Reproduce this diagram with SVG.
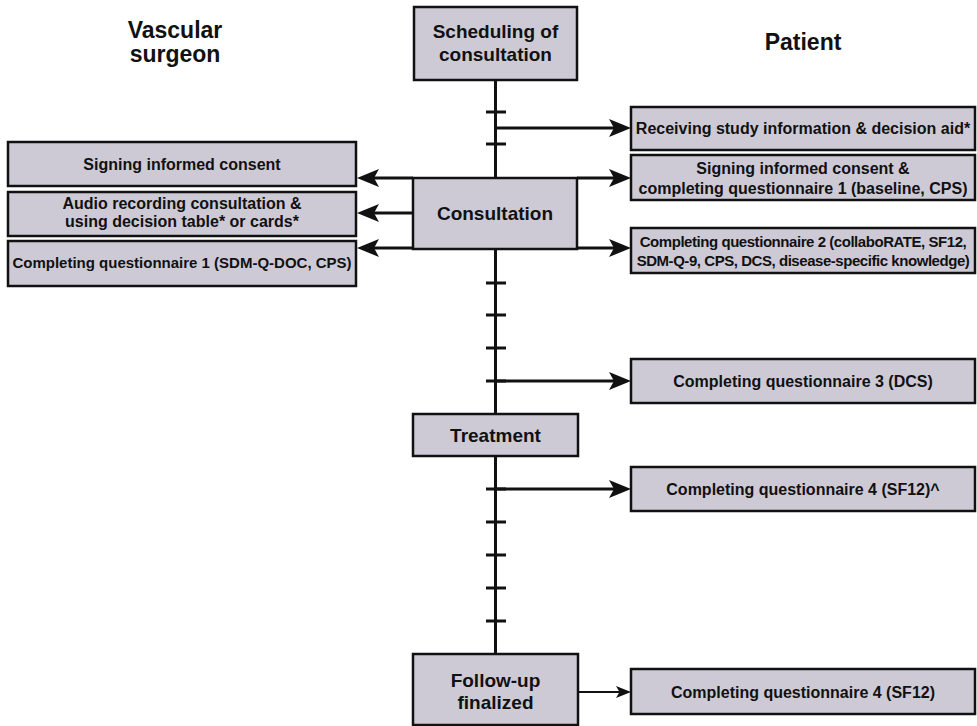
<svg xmlns="http://www.w3.org/2000/svg" width="977" height="726" viewBox="0 0 977 726">
<style>
.box{fill:#cdcad6;stroke:#111;stroke-width:2.5}
.t{font-family:"Liberation Sans",Arial,sans-serif;font-weight:bold;fill:#111;text-anchor:middle}
.hdr{font-size:23px}
.nd{font-size:19px}
.sm{font-size:16px}
.cd{font-size:15px;letter-spacing:-0.45px}
.ln{stroke:#111;stroke-width:3;fill:none}
.thin{stroke:#111;stroke-width:2;fill:none}
</style>
<defs>
<marker id="ah" markerUnits="userSpaceOnUse" markerWidth="22" markerHeight="18" refX="10" refY="9" orient="auto">
<path d="M0,0 L22,9 L0,18 L5,9 Z" fill="#111"/>
</marker>
<marker id="ahs" markerUnits="userSpaceOnUse" markerWidth="15" markerHeight="12" refX="7" refY="6" orient="auto">
<path d="M0,0 L15,6 L0,12 L3.5,6 Z" fill="#111"/>
</marker>
</defs>

<text class="t hdr" x="175" y="38">Vascular</text>
<text class="t hdr" x="175" y="62">surgeon</text>
<text class="t hdr" x="803" y="50">Patient</text>

<g id="connectors">
<line class="ln" x1="495.5" y1="80" x2="495.5" y2="178"/>
<line class="ln" x1="495.5" y1="249" x2="495.5" y2="414"/>
<line class="ln" x1="495.5" y1="456" x2="495.5" y2="654"/>
<line class="ln" x1="486" y1="112" x2="506" y2="112"/>
<line class="ln" x1="486" y1="144" x2="506" y2="144"/>
<line class="ln" x1="486" y1="283" x2="506" y2="283"/>
<line class="ln" x1="486" y1="315" x2="506" y2="315"/>
<line class="ln" x1="486" y1="348" x2="506" y2="348"/>
<line class="ln" x1="486" y1="381" x2="506" y2="381"/>
<line class="ln" x1="486" y1="489" x2="506" y2="489"/>
<line class="ln" x1="486" y1="522" x2="506" y2="522"/>
<line class="ln" x1="486" y1="555" x2="506" y2="555"/>
<line class="ln" x1="486" y1="588" x2="506" y2="588"/>
<line class="ln" x1="486" y1="621" x2="506" y2="621"/>
<line class="ln" x1="495" y1="128" x2="619" y2="128" marker-end="url(#ah)"/>
<line class="ln" x1="413" y1="178" x2="369" y2="178" marker-end="url(#ah)"/>
<line class="ln" x1="577" y1="178" x2="619" y2="178" marker-end="url(#ah)"/>
<line class="ln" x1="413" y1="213" x2="369" y2="213" marker-end="url(#ah)"/>
<line class="ln" x1="413" y1="248" x2="369" y2="248" marker-end="url(#ah)"/>
<line class="ln" x1="577" y1="248" x2="619" y2="248" marker-end="url(#ah)"/>
<line class="ln" x1="495" y1="381" x2="619" y2="381" marker-end="url(#ah)"/>
<line class="ln" x1="495" y1="489" x2="619" y2="489" marker-end="url(#ah)"/>
<line class="thin" x1="578" y1="692" x2="623" y2="692" marker-end="url(#ahs)"/>
</g>

<g id="scheduling">
<rect class="box" x="414" y="7" width="163" height="73"/>
<text class="t nd" x="495.5" y="38">Scheduling of</text>
<text class="t nd" x="495.5" y="61">consultation</text>
</g>
<g id="consultation">
<rect class="box" x="413" y="178" width="164" height="71"/>
<text class="t nd" x="495" y="220">Consultation</text>
</g>
<g id="treatment">
<rect class="box" x="413" y="414" width="165" height="42"/>
<text class="t nd" x="495.5" y="442">Treatment</text>
</g>
<g id="followup">
<rect class="box" x="413" y="654" width="165" height="71"/>
<text class="t nd" x="495.5" y="687">Follow-up</text>
<text class="t nd" x="495.5" y="709">finalized</text>
</g>

<g id="s-consent">
<rect class="box" x="8" y="142" width="348" height="44"/>
<text class="t sm" x="182" y="170">Signing informed consent</text>
</g>
<g id="s-audio">
<rect class="box" x="8" y="192" width="348" height="44"/>
<text class="t sm" x="182" y="209">Audio recording consultation &amp;</text>
<text class="t sm" x="182" y="227">using decision table* or cards*</text>
</g>
<g id="s-q1">
<rect class="box" x="8" y="241" width="348" height="45"/>
<text class="t" x="182" y="268" style="font-size:15px">Completing questionnaire 1 (SDM-Q-DOC, CPS)</text>
</g>

<g id="p-info">
<rect class="box" x="631" y="107" width="344" height="43"/>
<text class="t sm" x="803" y="134">Receiving study information &amp; decision aid*</text>
</g>
<g id="p-consent">
<rect class="box" x="631" y="155" width="344" height="45"/>
<text class="t sm" x="803" y="174">Signing informed consent &amp;</text>
<text class="t sm" x="803" y="194">completing questionnaire 1 (baseline, CPS)</text>
</g>
<g id="p-q2">
<rect class="box" x="631" y="228" width="344" height="45"/>
<text class="t cd" x="803" y="247">Completing questionnaire 2 (collaboRATE, SF12,</text>
<text class="t cd" x="803" y="266">SDM-Q-9, CPS, DCS, disease-specific knowledge)</text>
</g>
<g id="p-q3">
<rect class="box" x="631" y="359" width="344" height="44"/>
<text class="t sm" x="803" y="387">Completing questionnaire 3 (DCS)</text>
</g>
<g id="p-q4a">
<rect class="box" x="631" y="467" width="344" height="44"/>
<text class="t sm" x="803" y="495">Completing questionnaire 4 (SF12)^</text>
</g>
<g id="p-q4b">
<rect class="box" x="631" y="669" width="344" height="45"/>
<text class="t sm" x="803" y="698">Completing questionnaire 4 (SF12)</text>
</g>
</svg>
